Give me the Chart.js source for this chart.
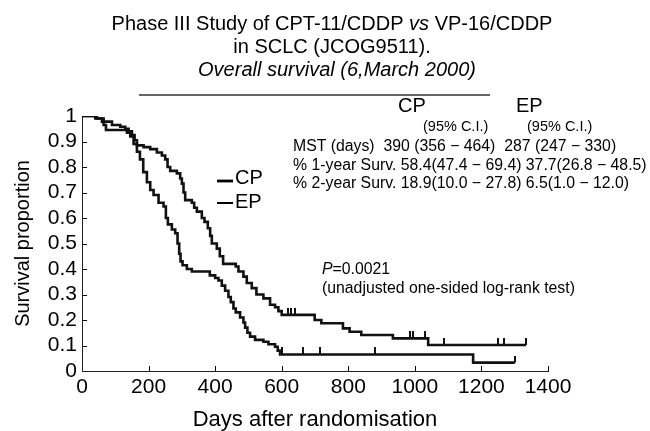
<!DOCTYPE html>
<html>
<head>
<meta charset="utf-8">
<script src="https://cdn.jsdelivr.net/npm/chart.js@4"></script>
<style>
  body { margin: 0; background: #fff; }
  canvas { display: block; }
</style>
</head>
<body>
<canvas id="myChart" width="650" height="431"></canvas>
<script>
// Kaplan-Meier steps (day of event, survival after it)
const cpDays = [0, 45, 60, 90, 115, 130, 140, 150, 158, 165, 185, 205, 225, 240, 250, 257, 265, 285, 295, 300, 305, 310, 330, 337, 345, 360, 368, 378, 385, 390, 405, 414, 424, 462, 470, 485, 495, 510, 524, 545, 565, 580, 590, 600, 699, 719, 784, 804, 839, 934, 1040, 1334];
const cpSurvival = [1, 0.99, 0.978, 0.965, 0.958, 0.95, 0.94, 0.925, 0.905, 0.885, 0.878, 0.87, 0.857, 0.845, 0.83, 0.80, 0.785, 0.775, 0.755, 0.735, 0.70, 0.67, 0.66, 0.64, 0.625, 0.60, 0.585, 0.56, 0.53, 0.50, 0.48, 0.45, 0.42, 0.41, 0.39, 0.37, 0.345, 0.325, 0.30, 0.285, 0.26, 0.25, 0.235, 0.22, 0.20, 0.187, 0.167, 0.154, 0.141, 0.128, 0.102, 0.102];
const epDays = [0, 40, 65, 72, 135, 145, 155, 165, 174, 184, 195, 205, 215, 230, 245, 252, 258, 270, 280, 287, 292, 296, 302, 315, 330, 384, 400, 410, 420, 430, 440, 447, 455, 462, 475, 485, 490, 497, 505, 520, 545, 560, 580, 588, 595, 1175, 1300];
const epSurvival = [1, 0.99, 0.965, 0.945, 0.935, 0.92, 0.89, 0.86, 0.83, 0.78, 0.74, 0.71, 0.69, 0.66, 0.645, 0.60, 0.575, 0.555, 0.54, 0.50, 0.46, 0.43, 0.415, 0.40, 0.39, 0.375, 0.365, 0.355, 0.335, 0.315, 0.29, 0.27, 0.245, 0.23, 0.21, 0.19, 0.17, 0.15, 0.135, 0.122, 0.115, 0.105, 0.095, 0.08, 0.065, 0.033, 0.033];

// censored observations
const cpCensorDays = [619, 629, 639, 984, 994, 1029, 1089, 1249, 1269, 1334];
const cpCensorSurvival = [0.22, 0.22, 0.22, 0.128, 0.128, 0.128, 0.102, 0.102, 0.102, 0.102];
const epCensorDays = [600, 665, 715, 880, 1300];
const epCensorSurvival = [0.065, 0.065, 0.065, 0.065, 0.033];

const xTicks = [0, 200, 400, 600, 800, 1000, 1200, 1400];
const yTicks = [0, 0.1, 0.2, 0.3, 0.4, 0.5, 0.6, 0.7, 0.8, 0.9, 1];

const titleLines = ['Phase III Study of CPT-11/CDDP ', 'vs', ' VP-16/CDDP', 'in SCLC (JCOG9511).', 'Overall survival (6,March 2000)'];
const tableRows = [
  'MST (days)  390 (356 \u2212 464)  287 (247 \u2212 330)',
  '% 1-year Surv. 58.4(47.4 \u2212 69.4) 37.7(26.8 \u2212 48.5)',
  '% 2-year Surv. 18.9(10.0 \u2212 27.8) 6.5(1.0 \u2212 12.0)'
];

const FONT = '"Liberation Sans", Arial, Helvetica, sans-serif';
Chart.defaults.font.family = FONT;
Chart.defaults.color = '#000';

const pts = (xs, ys) => xs.map((d, i) => ({ x: d, y: ys[i] }));

// little upward tick used for censor marks
const censorMark = document.createElement('canvas');
censorMark.width = 2;
censorMark.height = 14;
const cm = censorMark.getContext('2d');
cm.fillStyle = '#111';
cm.fillRect(0, 0, 2, 7);

const annotate = {
  id: 'annotate',
  afterDraw(chart) {
    const ctx = chart.ctx;
    const xs = chart.scales.x, ys = chart.scales.y;
    ctx.save();
    ctx.fillStyle = '#000';
    ctx.strokeStyle = '#000';
    ctx.textBaseline = 'middle';

    // inward tick marks
    ctx.lineWidth = 1;
    ctx.beginPath();
    yTicks.slice(1, -1).forEach(v => {
      const py = Math.round(ys.getPixelForValue(v)) + 0.5;
      ctx.moveTo(xs.left, py); ctx.lineTo(xs.left + 5, py);
    });
    xTicks.slice(1).forEach(v => {
      const px = Math.round(xs.getPixelForValue(v)) + 0.5;
      ctx.moveTo(px, ys.bottom); ctx.lineTo(px, ys.bottom - 5);
    });
    ctx.stroke();

    // title
    const cx = 332;
    ctx.font = '20px ' + FONT;
    const w0 = ctx.measureText(titleLines[0]).width;
    const w2 = ctx.measureText(titleLines[2]).width;
    ctx.font = 'italic 20px ' + FONT;
    const w1 = ctx.measureText(titleLines[1]).width;
    let x0 = cx - (w0 + w1 + w2) / 2;
    ctx.textAlign = 'left';
    ctx.font = '20px ' + FONT;
    ctx.fillText(titleLines[0], x0, 24);
    ctx.font = 'italic 20px ' + FONT;
    ctx.fillText(titleLines[1], x0 + w0, 24);
    ctx.font = '20px ' + FONT;
    ctx.fillText(titleLines[2], x0 + w0 + w1, 24);
    ctx.textAlign = 'center';
    ctx.fillText(titleLines[3], cx, 47);
    ctx.font = 'italic 20px ' + FONT;
    ctx.fillText(titleLines[4], cx + 5, 70);
    ctx.strokeStyle = '#333';
    ctx.lineWidth = 1.3;
    ctx.beginPath();
    ctx.moveTo(139, 95); ctx.lineTo(490, 95);
    ctx.stroke();

    // table of results
    ctx.textAlign = 'left';
    ctx.font = '20px ' + FONT;
    ctx.fillText('CP', 398, 106);
    ctx.fillText('EP', 516, 106);
    ctx.font = '14.5px ' + FONT;
    ctx.fillText('(95% C.I.)', 423, 127);
    ctx.fillText('(95% C.I.)', 527, 127);
    ctx.font = '15.8px ' + FONT;
    tableRows.forEach((r, i) => ctx.fillText(r, 293, 147 + i * 18.5));

    // p value
    ctx.font = 'italic 15.8px ' + FONT;
    ctx.fillText('P', 322, 270);
    const pw = ctx.measureText('P').width;
    ctx.font = '15.8px ' + FONT;
    ctx.fillText('=0.0021', 322 + pw, 270);
    ctx.fillText('(unadjusted one-sided log-rank test)', 322, 289);

    // legend
    ctx.font = '20px ' + FONT;
    ctx.strokeStyle = '#000';
    ctx.lineWidth = 2.8;
    ctx.beginPath(); ctx.moveTo(217, 181); ctx.lineTo(233, 181); ctx.stroke();
    ctx.lineWidth = 2;
    ctx.beginPath(); ctx.moveTo(217, 203); ctx.lineTo(233, 203); ctx.stroke();
    ctx.fillText('CP', 235, 178);
    ctx.fillText('EP', 235, 202);
    ctx.restore();
  }
};

const config = {
  type: 'line',
  data: {
    datasets: [
      { label: 'CP', data: pts(cpDays, cpSurvival), stepped: true, borderColor: '#111', borderWidth: 2.6, pointRadius: 0, fill: false },
      { label: 'EP', data: pts(epDays, epSurvival), stepped: true, borderColor: '#111', borderWidth: 2.6, pointRadius: 0, fill: false },
      { label: 'CP censored', data: pts(cpCensorDays, cpCensorSurvival), showLine: false, pointStyle: censorMark, pointRadius: 4 },
      { label: 'EP censored', data: pts(epCensorDays, epCensorSurvival), showLine: false, pointStyle: censorMark, pointRadius: 4 }
    ]
  },
  options: {
    responsive: false,
    animation: false,
    layout: { padding: { top: 116, right: 102, left: 0, bottom: 0 } },
    plugins: { legend: { display: false }, tooltip: { enabled: false } },
    scales: {
      x: {
        type: 'linear', min: 0, max: 1400,
        afterBuildTicks: s => { s.ticks = xTicks.map(v => ({ value: v })); },
        afterFit: s => { s.height = 60; },
        grid: { display: false, drawTicks: false },
        border: { display: true, color: '#222', width: 1 },
        ticks: { font: { size: 21 }, padding: 4, maxRotation: 0, autoSkip: false, callback: v => String(v) },
        title: { display: true, text: 'Days after randomisation', font: { size: 22, lineHeight: 1 }, padding: { top: 0, bottom: 0 } }
      },
      y: {
        type: 'linear', min: 0, max: 1,
        afterBuildTicks: s => { s.ticks = yTicks.map(v => ({ value: v })); },
        afterFit: s => { s.width = 82; },
        grid: { display: false, drawTicks: false },
        border: { display: true, color: '#222', width: 1 },
        ticks: { font: { size: 21 }, padding: 5, autoSkip: false, callback: v => (v === 0 || v === 1) ? String(v) : v.toFixed(1) },
        title: { display: true, text: 'Survival proportion', font: { size: 20, lineHeight: 1 }, padding: { top: 13, bottom: 0 } }
      }
    }
  },
  plugins: [annotate]
};

new Chart(document.getElementById('myChart'), config);
</script>
</body>
</html>
